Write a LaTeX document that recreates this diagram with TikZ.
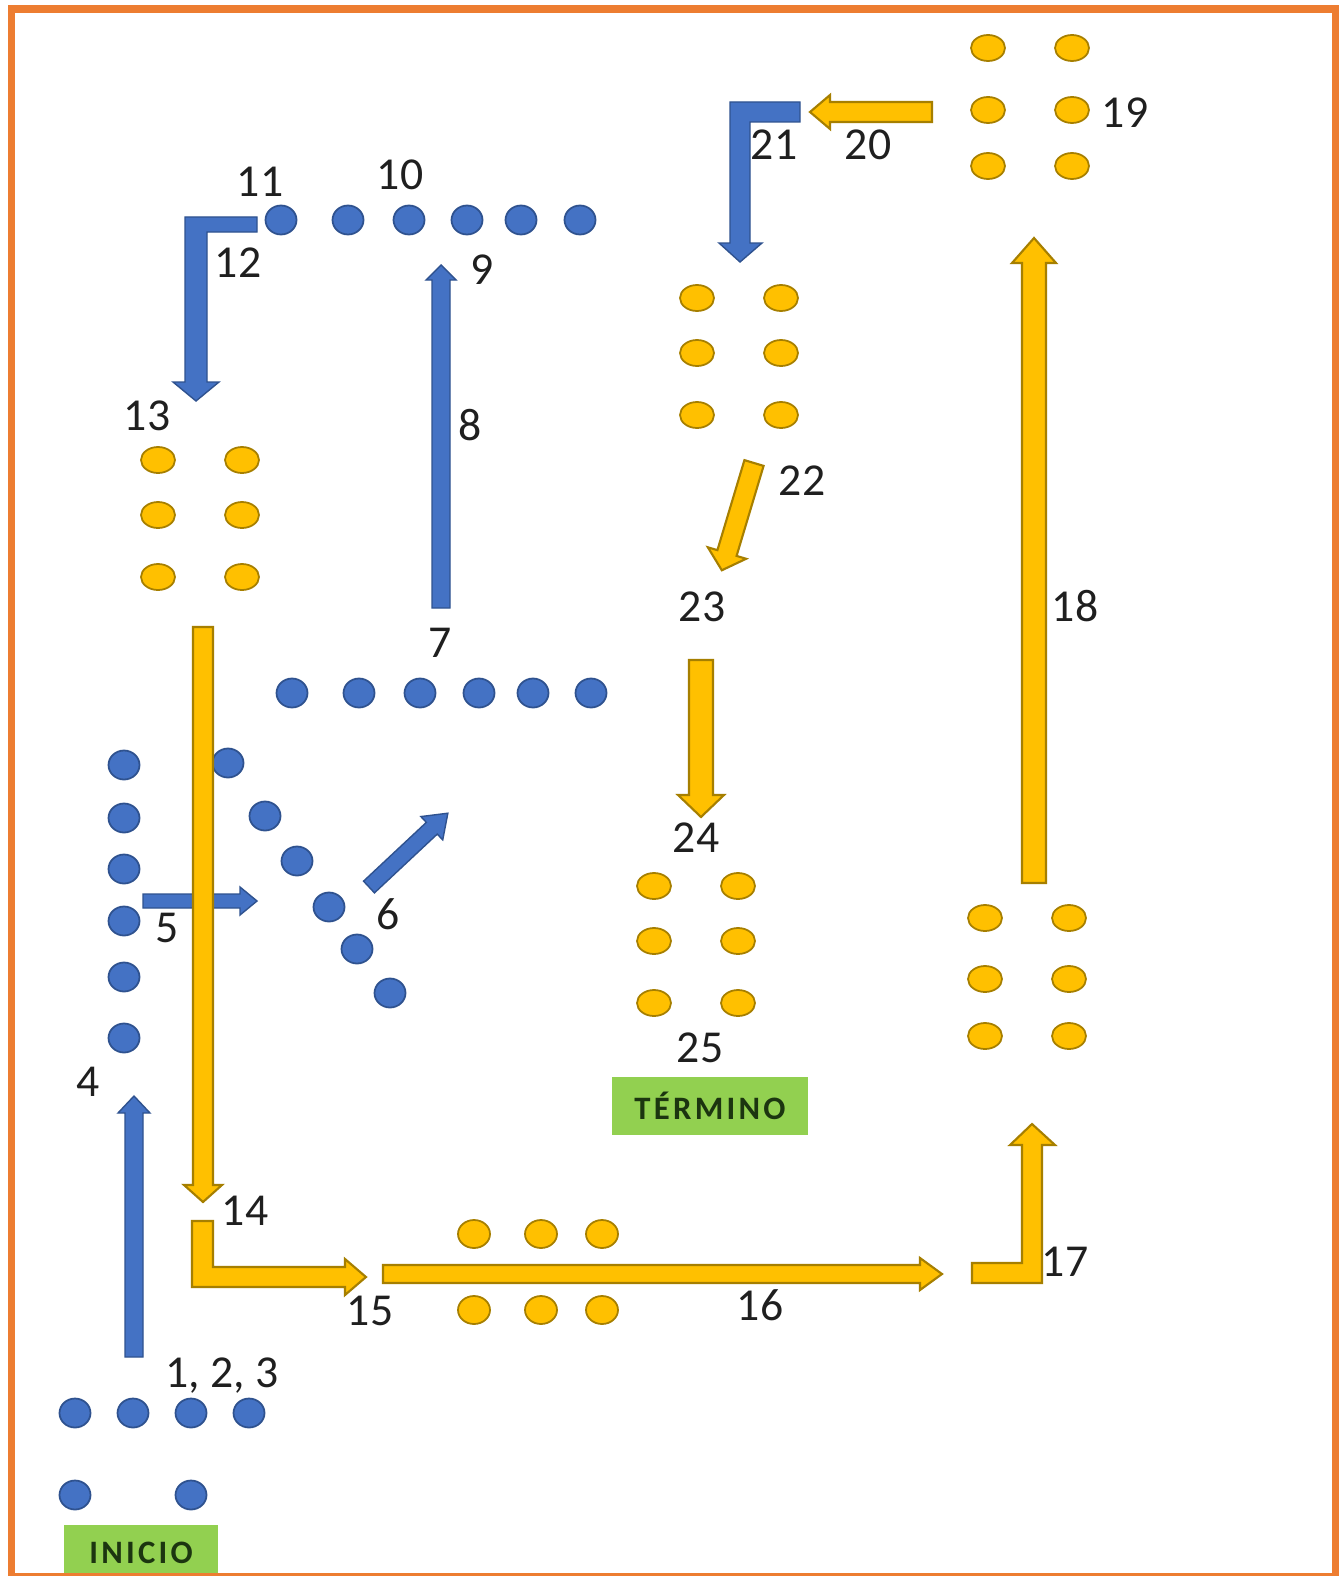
\documentclass[tikz,border=0pt]{standalone}
\usepackage{fontspec}
\setmainfont{Carlito}
\definecolor{dotblue}{HTML}{4472C4}
\definecolor{dotblueline}{HTML}{2F528F}
\definecolor{dotgold}{HTML}{FFC000}
\definecolor{dotgoldline}{HTML}{A67F00}
\definecolor{frameorange}{HTML}{ED7D31}
\definecolor{boxgreen}{HTML}{92D050}
\definecolor{boxtext}{HTML}{1C3510}

% style, x, y, angle, length, shaft half, head half, head length
\newcommand{\blkarrow}[8]{%
  \begin{scope}[shift={(#2,#3)}, rotate=#4]
    \draw[#1] (0,-#6) -- (#5-#8,-#6) -- (#5-#8,-#7) -- (#5,0)
      -- (#5-#8,#7) -- (#5-#8,#6) -- (0,#6) -- cycle;
  \end{scope}}

\begin{document}
\begin{tikzpicture}[x=0.01cm, y=-0.01cm,
  bdot/.style={fill=dotblue, draw=dotblueline, line width=0.5pt},
  gdot/.style={fill=dotgold, draw=dotgoldline, line width=0.5pt},
  barr/.style={fill=dotblue, draw=dotblueline, line width=0.4pt},
  garr/.style={fill=dotgold, draw=dotgoldline, line width=0.6pt},
  lbl/.style={font=\fontsize{13}{15}\selectfont, text=black!88, inner sep=0pt},
  gbox/.style={fill=boxgreen, text=boxtext, inner sep=0pt,
    font=\fontsize{9.3}{11}\selectfont\bfseries\addfontfeature{LetterSpace=10}}]
  \useasboundingbox (0,0) rectangle (1339,1576);
  \fill[white] (0,0) rectangle (1339,1576);

  \node[gbox, minimum width=1.54cm, minimum height=0.56cm] (inicio) at (141,1553) {INICIO};
  \node[gbox, minimum width=1.96cm, minimum height=0.58cm] (termino) at (710,1106) {TÉRMINO};
  \draw[frameorange, line width=0.075cm] (11.5,9) rectangle (1335.5,1577);

  % blue dots
  \foreach \x in {75,133,191,249} { \path[bdot] (\x,1413) ellipse (15.5 and 14.5); }
  \foreach \x in {75,191} { \path[bdot] (\x,1495) ellipse (15.5 and 14.5); }
  \foreach \y in {765,818,869,921,977,1038} { \path[bdot] (124,\y) ellipse (15.5 and 14.5); }
  \foreach \x/\y in {228/763,265/816,297/861,329/907,357/949,390/993}
    { \path[bdot] (\x,\y) ellipse (15.5 and 14.5); }
  \foreach \x in {292,359,420,479,533,591} { \path[bdot] (\x,693) ellipse (15.5 and 14.5); }
  \foreach \x in {281,348,409,467,521,580} { \path[bdot] (\x,220) ellipse (15.5 and 14.5); }

  % gold dots
  \foreach \x/\y in {158/0,985/2,988/3,697/4,654/5} {
    \ifcase\y \def\ys{460,515,577}\or \def\ys{}\or \def\ys{918,979,1036}
    \or \def\ys{48,110,166}\or \def\ys{298,353,415}\or \def\ys{886,941,1003}\fi
    \foreach \v in \ys {
      \path[gdot] (\x,\v) ellipse (17 and 13);
      \path[gdot] (\x+84,\v) ellipse (17 and 13);
    }
  }
  \foreach \x in {474,541,602} {
    \path[gdot] (\x,1234) ellipse (16 and 14);
    \path[gdot] (\x,1310) ellipse (16 and 14);
  }

  % blue arrows
  \blkarrow{barr}{134}{1357}{90}{261}{9}{16}{17}
  \blkarrow{barr}{143}{901}{0}{114}{7}{14}{17}
  \blkarrow{barr}{369}{887}{43.1}{108}{8}{16}{22}
  \blkarrow{barr}{441}{608}{90}{343}{9}{15}{15}
  \draw[barr] (257,217) -- (185,217) -- (185,382) -- (173,382) -- (196,401)
    -- (219,382) -- (207,382) -- (207,232) -- (257,232) -- cycle;
  \draw[barr] (800,102) -- (730,102) -- (730,243) -- (719,243) -- (740,262)
    -- (762,243) -- (750,243) -- (750,122) -- (800,122) -- cycle;

  % gold arrows
  \blkarrow{garr}{203}{627}{-90}{575}{10}{19}{17}
  \draw[garr] (192,1221) -- (213,1221) -- (213,1267) -- (345,1267) -- (345,1259)
    -- (366,1277) -- (345,1295) -- (345,1287) -- (192,1287) -- cycle;
  \blkarrow{garr}{383}{1274}{0}{559}{9}{16}{22}
  \draw[garr] (972,1263) -- (1022,1263) -- (1022,1145) -- (1010,1145) -- (1032,1124)
    -- (1055,1145) -- (1042,1145) -- (1042,1283) -- (972,1283) -- cycle;
  \blkarrow{garr}{1034}{883}{90}{645}{12}{22}{25}
  \blkarrow{garr}{932}{112}{180}{122}{10}{17}{20}
  \blkarrow{garr}{754}{463}{-106.7}{112}{10}{20}{18}
  \blkarrow{garr}{701}{660}{-90}{157}{12}{23}{22}

  % step numbers
  \node[lbl] (n123) at (222,1376) {1, 2, 3};
  \foreach \t/\x/\y in {4/88/1082, 5/167/928, 6/388/914, 7/440/643, 8/470/425,
      9/482/270, 10/400/175, 11/260/182, 12/238/263, 13/147/416, 14/245/1211,
      15/370/1311, 16/760/1305, 17/1065/1262, 18/1075/606, 19/1125/113,
      20/868/145, 21/774/145, 22/802/481, 23/702/607, 24/696/838, 25/700/1048}
    { \node[lbl] (n\t) at (\x,\y) {\t}; }
\end{tikzpicture}
\end{document}
